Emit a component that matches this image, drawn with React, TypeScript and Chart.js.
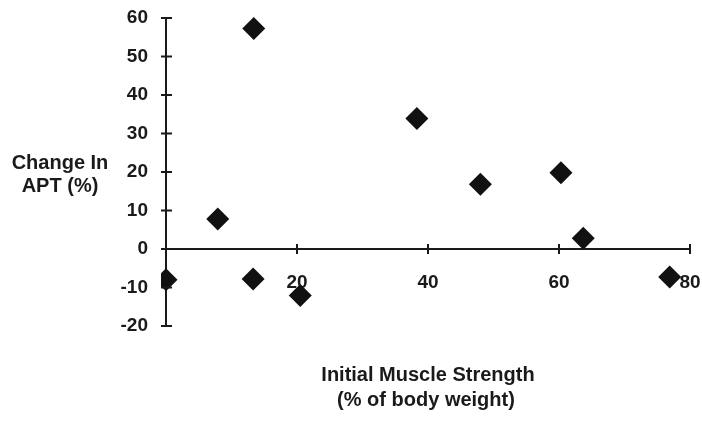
import React, { useEffect, useRef } from "react";
import { Chart, registerables } from "chart.js";

Chart.register(...registerables);

// Data
const strengthValues = [0, 7.9, 13.4, 13.3, 20.5, 38.3, 48.0, 60.3, 63.7, 76.9];
const aptChangeValues = [-8, 7.8, 57.3, -7.8, -12.1, 33.9, 16.8, 19.8, 2.8, -7.3];
const xTickValues = [0, 20, 40, 60, 80];
const yTickValues = [-20, -10, 0, 10, 20, 30, 40, 50, 60];
const xTitleLines = ["Initial Muscle Strength", "(% of body weight)"];
const yTitleLines = ["Change In", "APT (%)"];

const FONT_FAMILY = "'Liberation Sans', Arial, sans-serif";
const INK = "#1a1a1a";

const crossTicksAndTitles = {
  id: "crossTicksAndTitles",
  afterDraw(chart: any) {
    const { ctx, chartArea, scales } = chart;
    const xs = scales.x;
    const ys = scales.y;
    const x0 = xs.getPixelForValue(0);
    const y0 = ys.getPixelForValue(0);
    ctx.save();
    ctx.strokeStyle = INK;
    ctx.lineWidth = 2;
    ctx.beginPath();
    yTickValues.forEach((v) => {
      const py = ys.getPixelForValue(v);
      ctx.moveTo(x0 - 5, py);
      ctx.lineTo(x0 + 6, py);
    });
    xTickValues.forEach((v) => {
      const px = xs.getPixelForValue(v);
      ctx.moveTo(px, y0 - 5);
      ctx.lineTo(px, y0 + 5);
    });
    ctx.stroke();

    ctx.fillStyle = INK;
    ctx.font = `bold 20px ${FONT_FAMILY}`;
    ctx.textAlign = "center";
    ctx.textBaseline = "middle";
    const yMid = (chartArea.top + chartArea.bottom) / 2;
    ctx.fillText(yTitleLines[0], 60, yMid - 9);
    ctx.fillText(yTitleLines[1], 60, yMid + 14);
    const xMid = (chartArea.left + chartArea.right) / 2;
    ctx.fillText(xTitleLines[0], xMid, 375);
    ctx.fillText(xTitleLines[1], xMid - 2, 400);
    ctx.restore();
  },
};

const zeroScalePadding = (s: any) => {
  s.paddingLeft = 0;
  s.paddingRight = 0;
  s.paddingTop = 0;
  s.paddingBottom = 0;
};

export default function App() {
  const canvasRef = useRef<HTMLCanvasElement | null>(null);

  useEffect(() => {
    const canvas = canvasRef.current;
    if (!canvas) return;
    const points = strengthValues.map((x, i) => ({ x, y: aptChangeValues[i] }));
    const chart = new Chart(canvas, {
      type: "scatter",
      data: {
        datasets: [
          {
            data: points,
            pointStyle: "rectRot",
            pointRadius: 11.5,
            pointHoverRadius: 11.5,
            backgroundColor: "#111111",
            borderColor: "#111111",
            borderWidth: 0,
            clip: { left: 5, top: false, right: false, bottom: false } as any,
          },
        ],
      },
      options: {
        responsive: false,
        animation: false,
        events: [],
        layout: { padding: { left: 0, right: 12, top: 18, bottom: 95 } },
        plugins: {
          legend: { display: false },
          tooltip: { enabled: false },
        },
        scales: {
          x: {
            type: "linear",
            min: 0,
            max: 80,
            position: { y: 0 } as any,
            afterBuildTicks: (s: any) => {
              s.ticks = xTickValues.map((v) => ({ value: v }));
            },
            afterFit: (s: any) => {
              zeroScalePadding(s);
            },
            grid: { display: false, drawTicks: false },
            border: { display: true, color: INK, width: 2 },
            ticks: {
              padding: 22,
              color: INK,
              font: { family: FONT_FAMILY, size: 19, weight: "bold" },
              maxRotation: 0,
              autoSkip: false,
            },
          },
          y: {
            type: "linear",
            min: -20,
            max: 60,
            position: "left",
            afterBuildTicks: (s: any) => {
              s.ticks = yTickValues.map((v) => ({ value: v }));
            },
            afterFit: (s: any) => {
              s.width = 166;
              zeroScalePadding(s);
            },
            grid: { display: false, drawTicks: false },
            border: { display: true, color: INK, width: 2 },
            ticks: {
              padding: 18,
              color: INK,
              font: { family: FONT_FAMILY, size: 19, weight: "bold" },
              autoSkip: false,
            },
          },
        },
      },
      plugins: [crossTicksAndTitles],
    });
    return () => chart.destroy();
  }, []);

  return (
    <div style={{ position: "fixed", left: 0, top: 0, width: 702, height: 421, background: "#ffffff" }}>
      <canvas ref={canvasRef} width={702} height={421} style={{ display: "block" }} />
    </div>
  );
}
